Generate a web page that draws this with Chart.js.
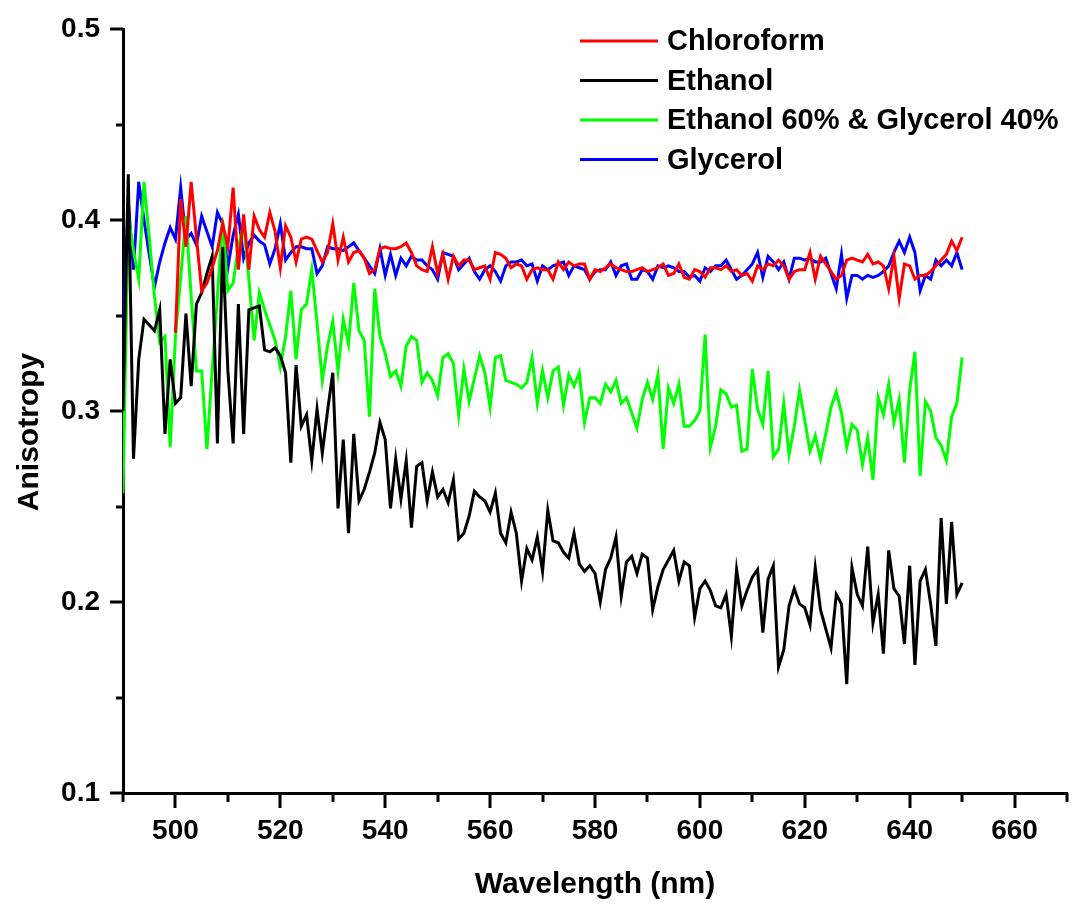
<!DOCTYPE html>
<html>
<head>
<meta charset="utf-8">
<title>Anisotropy vs Wavelength</title>
<script src="https://cdn.jsdelivr.net/npm/chart.js@4.4.1/dist/chart.umd.min.js"></script>
<style>
  body { margin: 0; background: #fff; }
  canvas { display: block; }
</style>
</head>
<body>
<canvas id="anisotropyChart" width="1088" height="905"></canvas>
<script>
// wavelength (nm) of each sample
var wavelength = [
  490, 491, 492, 493, 494, 495, 496, 497, 498, 499,
  500, 501, 502, 503, 504, 505, 506, 507, 508, 509,
  510, 511, 512, 513, 514, 515, 516, 517, 518, 519,
  520, 521, 522, 523, 524, 525, 526, 527, 528, 529,
  530, 531, 532, 533, 534, 535, 536, 537, 538, 539,
  540, 541, 542, 543, 544, 545, 546, 547, 548, 549,
  550, 551, 552, 553, 554, 555, 556, 557, 558, 559,
  560, 561, 562, 563, 564, 565, 566, 567, 568, 569,
  570, 571, 572, 573, 574, 575, 576, 577, 578, 579,
  580, 581, 582, 583, 584, 585, 586, 587, 588, 589,
  590, 591, 592, 593, 594, 595, 596, 597, 598, 599,
  600, 601, 602, 603, 604, 605, 606, 607, 608, 609,
  610, 611, 612, 613, 614, 615, 616, 617, 618, 619,
  620, 621, 622, 623, 624, 625, 626, 627, 628, 629,
  630, 631, 632, 633, 634, 635, 636, 637, 638, 639,
  640, 641, 642, 643, 644, 645, 646, 647, 648, 649,
  650
];

var chloroform = [
  null, null, null, null, null, null, null, null, null, null,
  0.341, 0.411, 0.386, 0.420, 0.391, 0.363, 0.367, 0.375, 0.384, 0.398,
  0.386, 0.417, 0.374, 0.403, 0.374, 0.402, 0.395, 0.391, 0.404, 0.394,
  0.375, 0.397, 0.391, 0.378, 0.390, 0.391, 0.390, 0.384, 0.378, 0.383,
  0.398, 0.379, 0.391, 0.378, 0.383, 0.384, 0.380, 0.372, 0.374, 0.385,
  0.386, 0.385, 0.385, 0.386, 0.388, 0.383, 0.376, 0.374, 0.373, 0.386,
  0.372, 0.382, 0.369, 0.381, 0.376, 0.379, 0.379, 0.374, 0.375, 0.376,
  0.369, 0.383, 0.382, 0.380, 0.375, 0.377, 0.376, 0.369, 0.374, 0.375,
  0.374, 0.374, 0.369, 0.378, 0.374, 0.378, 0.376, 0.377, 0.377, 0.369,
  0.374, 0.373, 0.375, 0.377, 0.375, 0.374, 0.373, 0.373, 0.374, 0.375,
  0.373, 0.374, 0.375, 0.377, 0.371, 0.372, 0.377, 0.370, 0.369, 0.374,
  0.373, 0.370, 0.375, 0.375, 0.374, 0.376, 0.373, 0.374, 0.371, 0.372,
  0.368, 0.376, 0.374, 0.377, 0.376, 0.379, 0.376, 0.369, 0.373, 0.374,
  0.374, 0.383, 0.369, 0.381, 0.377, 0.373, 0.369, 0.371, 0.379, 0.380,
  0.379, 0.378, 0.382, 0.377, 0.378, 0.376, 0.364, 0.381, 0.359, 0.377,
  0.376, 0.369, 0.371, 0.371, 0.373, 0.376, 0.379, 0.382, 0.389, 0.384,
  0.391
];

var ethanol = [
  0.300, 0.424, 0.275, 0.327, 0.348, 0.345, 0.342, 0.353, 0.288, 0.327,
  0.304, 0.307, 0.351, 0.313, 0.356, 0.362, 0.372, 0.381, 0.283, 0.386,
  0.321, 0.283, 0.356, 0.288, 0.353, 0.354, 0.355, 0.332, 0.331, 0.333,
  0.329, 0.320, 0.273, 0.324, 0.292, 0.298, 0.274, 0.301, 0.278, 0.300,
  0.320, 0.249, 0.285, 0.236, 0.288, 0.253, 0.259, 0.268, 0.278, 0.294,
  0.285, 0.249, 0.275, 0.254, 0.274, 0.239, 0.271, 0.273, 0.253, 0.268,
  0.255, 0.259, 0.252, 0.264, 0.233, 0.236, 0.245, 0.258, 0.255, 0.253,
  0.247, 0.257, 0.236, 0.231, 0.247, 0.236, 0.211, 0.228, 0.222, 0.234,
  0.216, 0.248, 0.232, 0.231, 0.226, 0.223, 0.236, 0.220, 0.216, 0.219,
  0.215, 0.200, 0.217, 0.223, 0.234, 0.203, 0.221, 0.224, 0.215, 0.225,
  0.223, 0.196, 0.208, 0.217, 0.222, 0.227, 0.211, 0.221, 0.219, 0.192,
  0.207, 0.211, 0.206, 0.198, 0.197, 0.204, 0.182, 0.217, 0.198, 0.206,
  0.213, 0.217, 0.184, 0.212, 0.219, 0.166, 0.175, 0.198, 0.207, 0.199,
  0.197, 0.188, 0.218, 0.196, 0.186, 0.176, 0.204, 0.199, 0.157, 0.218,
  0.204, 0.198, 0.229, 0.189, 0.204, 0.173, 0.227, 0.207, 0.203, 0.178,
  0.219, 0.167, 0.211, 0.217, 0.199, 0.177, 0.244, 0.199, 0.242, 0.204,
  0.210
];

var ethanolGlycerol = [
  0.257, 0.402, 0.384, 0.369, 0.420, 0.391, 0.360, 0.336, 0.339, 0.281,
  0.339, 0.370, 0.402, 0.360, 0.321, 0.321, 0.280, 0.321, 0.360, 0.400,
  0.363, 0.367, 0.386, 0.398, 0.369, 0.337, 0.362, 0.353, 0.345, 0.337,
  0.323, 0.339, 0.363, 0.327, 0.353, 0.356, 0.374, 0.346, 0.316, 0.334,
  0.347, 0.321, 0.348, 0.335, 0.367, 0.342, 0.337, 0.297, 0.364, 0.339,
  0.330, 0.318, 0.321, 0.313, 0.334, 0.339, 0.337, 0.315, 0.320, 0.316,
  0.308, 0.328, 0.330, 0.325, 0.298, 0.322, 0.305, 0.317, 0.329, 0.320,
  0.302, 0.328, 0.329, 0.316, 0.315, 0.314, 0.312, 0.315, 0.328, 0.304,
  0.321, 0.307, 0.321, 0.323, 0.303, 0.319, 0.313, 0.320, 0.294, 0.307,
  0.307, 0.304, 0.314, 0.310, 0.316, 0.304, 0.307, 0.299, 0.291, 0.306,
  0.315, 0.306, 0.319, 0.280, 0.312, 0.304, 0.314, 0.292, 0.292, 0.295,
  0.300, 0.340, 0.281, 0.292, 0.311, 0.309, 0.302, 0.303, 0.279, 0.280,
  0.322, 0.301, 0.293, 0.321, 0.276, 0.280, 0.304, 0.277, 0.292, 0.311,
  0.295, 0.279, 0.287, 0.275, 0.288, 0.302, 0.310, 0.299, 0.281, 0.293,
  0.290, 0.272, 0.286, 0.264, 0.307, 0.298, 0.314, 0.294, 0.306, 0.273,
  0.311, 0.331, 0.266, 0.305, 0.300, 0.286, 0.282, 0.274, 0.297, 0.304,
  0.328
];

var glycerol = [
  0.341, 0.410, 0.374, 0.420, 0.400, 0.382, 0.365, 0.378, 0.388, 0.396,
  0.390, 0.417, 0.390, 0.393, 0.387, 0.402, 0.394, 0.386, 0.404, 0.398,
  0.375, 0.392, 0.403, 0.380, 0.388, 0.392, 0.389, 0.387, 0.377, 0.385,
  0.398, 0.379, 0.383, 0.386, 0.386, 0.385, 0.385, 0.372, 0.376, 0.386,
  0.385, 0.385, 0.384, 0.386, 0.388, 0.384, 0.380, 0.376, 0.372, 0.385,
  0.371, 0.382, 0.371, 0.380, 0.376, 0.381, 0.379, 0.379, 0.376, 0.374,
  0.369, 0.383, 0.382, 0.381, 0.374, 0.377, 0.380, 0.373, 0.369, 0.374,
  0.376, 0.373, 0.368, 0.376, 0.378, 0.378, 0.379, 0.376, 0.377, 0.368,
  0.376, 0.374, 0.376, 0.377, 0.378, 0.371, 0.376, 0.375, 0.374, 0.369,
  0.373, 0.374, 0.374, 0.378, 0.371, 0.376, 0.377, 0.369, 0.369, 0.374,
  0.373, 0.369, 0.376, 0.375, 0.376, 0.375, 0.373, 0.373, 0.370, 0.371,
  0.368, 0.375, 0.373, 0.376, 0.376, 0.379, 0.374, 0.369, 0.371, 0.374,
  0.377, 0.383, 0.370, 0.381, 0.378, 0.374, 0.378, 0.369, 0.380, 0.380,
  0.379, 0.380, 0.378, 0.378, 0.380, 0.372, 0.364, 0.382, 0.359, 0.371,
  0.371, 0.369, 0.371, 0.370, 0.371, 0.373, 0.376, 0.383, 0.389, 0.383,
  0.391, 0.383, 0.363, 0.371, 0.369, 0.379, 0.376, 0.379, 0.376, 0.383,
  0.374
];

var seriesNames = ["Chloroform", "Ethanol", "Ethanol 60% & Glycerol 40%", "Glycerol"];
var seriesColors = ["#ff0000", "#000000", "#00ff00", "#0000ff"];

// axis ticks
var xTickLabels = [500, 520, 540, 560, 580, 600, 620, 640, 660];
var xMinorTicks = [490, 510, 530, 550, 570, 590, 610, 630, 650, 670];
var yTickLabels = [0.1, 0.2, 0.3, 0.4, 0.5];
var yMinorTicks = [0.15, 0.25, 0.35, 0.45];

var fontFamily = '"Liberation Sans", Arial, Helvetica, sans-serif';

function toPoints(values) {
    return wavelength.map(function (w, i) {
        return { x: w, y: values[i] };
    });
}

var allSeries = [chloroform, ethanol, ethanolGlycerol, glycerol];
var datasets = allSeries.map(function (values, i) {
    return {
        label: seriesNames[i],
        data: toPoints(values),
        borderColor: seriesColors[i],
        backgroundColor: seriesColors[i],
        borderWidth: 3,
        pointRadius: 0,
        tension: 0,
        fill: false,
        spanGaps: false
    };
});

/**
 * Draws the outward tick marks, the legend and the axis titles
 **/
var decorations = {
    id: "decorations",
    afterDraw: function (chart) {
        var ctx = chart.ctx;
        var xs = chart.scales.x;
        var ys = chart.scales.y;
        var area = chart.chartArea;

        ctx.save();
        ctx.strokeStyle = "#000";
        ctx.lineWidth = 3;
        ctx.lineCap = "butt";

        // y ticks
        yTickLabels.forEach(function (v) {
            var py = Math.round(ys.getPixelForValue(v));
            ctx.beginPath();
            ctx.moveTo(area.left - 13, py);
            ctx.lineTo(area.left, py);
            ctx.stroke();
        });
        yMinorTicks.forEach(function (v) {
            var py = Math.round(ys.getPixelForValue(v));
            ctx.beginPath();
            ctx.moveTo(area.left - 7, py);
            ctx.lineTo(area.left, py);
            ctx.stroke();
        });

        // x ticks
        xTickLabels.forEach(function (v) {
            var px = Math.round(xs.getPixelForValue(v));
            ctx.beginPath();
            ctx.moveTo(px, area.bottom);
            ctx.lineTo(px, area.bottom + 15);
            ctx.stroke();
        });
        xMinorTicks.forEach(function (v) {
            var px = Math.round(xs.getPixelForValue(v));
            ctx.beginPath();
            ctx.moveTo(px, area.bottom);
            ctx.lineTo(px, area.bottom + 9);
            ctx.stroke();
        });

        // legend
        ctx.font = "bold 29px " + fontFamily;
        ctx.textBaseline = "middle";
        ctx.textAlign = "left";
        chart.data.datasets.forEach(function (ds, i) {
            var ly = 41 + i * 39.5;
            ctx.strokeStyle = ds.borderColor;
            ctx.lineWidth = 3;
            ctx.beginPath();
            ctx.moveTo(580, ly);
            ctx.lineTo(658, ly);
            ctx.stroke();
            ctx.fillStyle = "#000";
            ctx.fillText(ds.label, 667, ly + 1);
        });

        // axis titles
        ctx.fillStyle = "#000";
        ctx.font = "bold 30px " + fontFamily;
        ctx.textAlign = "center";
        ctx.fillText("Wavelength (nm)", (area.left + area.right) / 2, 885);

        ctx.translate(30, 432);
        ctx.rotate(-Math.PI / 2);
        ctx.fillText("Anisotropy", 0, 0);
        ctx.restore();
    }
};

var ctxLine = document.getElementById("anisotropyChart");
var anisotropyChart = new Chart(ctxLine, {
    type: "line",
    data: { datasets: datasets },
    options: {
        responsive: false,
        animation: false,
        layout: { padding: { top: 29, right: 21, left: 0, bottom: 0 } },
        plugins: {
            legend: { display: false },
            tooltip: { enabled: false }
        },
        scales: {
            x: {
                type: "linear",
                min: 490,
                max: 670,
                afterBuildTicks: function (scale) {
                    scale.ticks = xTickLabels.map(function (v) { return { value: v }; });
                },
                afterFit: function (scale) { scale.height = 112; },
                grid: { drawOnChartArea: false, tickLength: 15, tickColor: "rgba(0,0,0,0)" },
                border: { display: true, color: "#000", width: 3 },
                ticks: {
                    color: "#000",
                    padding: 6,
                    maxRotation: 0,
                    autoSkip: false,
                    font: { family: fontFamily, size: 28, weight: "bold" }
                }
            },
            y: {
                type: "linear",
                min: 0.1,
                max: 0.5,
                afterBuildTicks: function (scale) {
                    scale.ticks = yTickLabels.map(function (v) { return { value: v }; });
                },
                afterFit: function (scale) { scale.width = 123; },
                grid: { drawOnChartArea: false, tickLength: 13, tickColor: "rgba(0,0,0,0)" },
                border: { display: true, color: "#000", width: 3 },
                ticks: {
                    color: "#000",
                    padding: 10,
                    autoSkip: false,
                    font: { family: fontFamily, size: 28, weight: "bold" },
                    callback: function (v) { return Number(v).toFixed(1); }
                }
            }
        }
    },
    plugins: [decorations]
});
</script>
</body>
</html>
